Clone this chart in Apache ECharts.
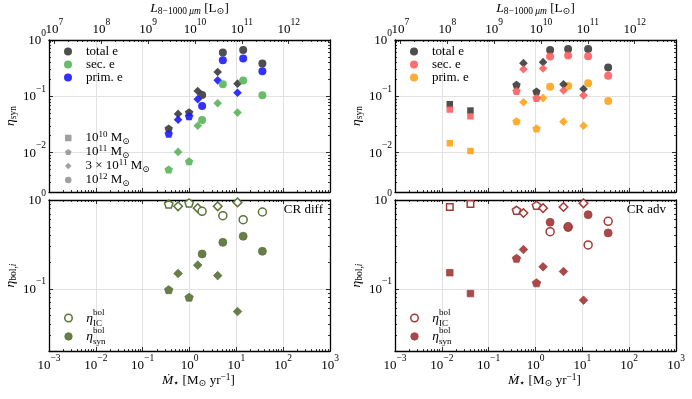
<!DOCTYPE html>
<html>
<head>
<meta charset="utf-8">
<script src="https://cdn.jsdelivr.net/npm/echarts@6.0.0/dist/echarts.min.js"></script>
<style>
html,body{margin:0;padding:0;background:#ffffff;}
#chart{width:692px;height:399px;}
</style>
</head>
<body>
<div id="chart"></div>
<script>
// ---------------- data ----------------
// CR diff (left column) -- star formation rate [Msun/yr] per halo-mass group
const diffMdotPent = [0.36, 0.98];            // 1e11 Msun (pentagons)
const diffMdotDiam = [0.57, 1.5, 4.0, 10.6];  // 3e11 Msun (diamonds)
const diffMdotCirc = [1.86, 5.15, 14, 36];    // 1e12 Msun (circles)

const diffTotalPent = [0.0269, 0.0521];
const diffTotalDiam = [0.0487, 0.124, 0.271, 0.168];
const diffTotalCirc = [0.105, 0.60, 0.662, 0.382];
const diffSecPent = [0.00504, 0.0070];
const diffSecDiam = [0.0103, 0.030, 0.0755, 0.0514];
const diffSecCirc = [0.038, 0.163, 0.19, 0.104];
const diffPrimPent = [0.0216, 0.0442];
const diffPrimDiam = [0.0385, 0.089, 0.192, 0.116];
const diffPrimCirc = [0.0676, 0.438, 0.47, 0.279];

const diffICPent = [0.90, 0.925];
const diffICDiam = [0.85, 0.81, 0.85, 0.94];
const diffICCirc = [0.746, 0.667, 0.60, 0.733];
const diffSynPent = [0.098, 0.0807];
const diffSynDiam = [0.149, 0.185, 0.141, 0.0556];
const diffSynCirc = [0.247, 0.334, 0.391, 0.265];

// CR adv (right column)
const advMdotSq = [0.0148, 0.0408];             // 1e10 Msun (squares)
const advMdotPent = [0.393, 1.05];
const advMdotDiam = [0.553, 1.45, 3.96, 10.6];
const advMdotCirc = [2.05, 4.97, 13.3, 35.6];

const advTotalSq = [0.0724, 0.0558];
const advTotalPent = [0.161, 0.122];
const advTotalDiam = [0.388, 0.404, 0.163, 0.135];
const advTotalCirc = [0.662, 0.69, 0.69, 0.324];
const advSecSq = [0.0583, 0.0442];
const advSecPent = [0.124, 0.093];
const advSecDiam = [0.303, 0.311, 0.127, 0.104];
const advSecCirc = [0.51, 0.532, 0.517, 0.233];
const advPrimSq = [0.0147, 0.0107];
const advPrimPent = [0.036, 0.0269];
const advPrimDiam = [0.0787, 0.093, 0.0355, 0.030];
const advPrimCirc = [0.148, 0.152, 0.170, 0.083];

const advICSq = [0.834, 0.90];
const advICPent = [0.766, 0.87];
const advICDiam = [0.714, 0.81, 0.834, 0.918];
const advICCirc = [0.44, 0.50, 0.312, 0.576];
const advSynSq = [0.152, 0.0886];
const advSynPent = [0.221, 0.117];
const advSynDiam = [0.277, 0.177, 0.157, 0.0746];
const advSynCirc = [0.561, 0.49, 0.684, 0.426];

// axis ranges and tick labels
const X_RANGE = [1e-3, 1e3];
const X_MAJOR = [1e-3, 1e-2, 1e-1, 1e0, 1e1, 1e2, 1e3];
const L_RANGE = [Math.pow(10, 6.883), Math.pow(10, 12.883)];
const L_MAJOR = [1e7, 1e8, 1e9, 1e10, 1e11, 1e12];
const Y_TOP_RANGE = [2e-3, 1];
const Y_TOP_MAJOR = [1e-2, 1e-1, 1];
const Y_BOT_RANGE = [2e-2, 1];
const Y_BOT_MAJOR = [1e-1, 1];

// ---------------- styling ----------------
const FONT = '"Liberation Serif", "DejaVu Serif", serif';
const PENT = 'path://M0,-10L9.511,-3.09L5.878,8.09L-5.878,8.09L-9.511,-3.09Z';
const SQ = 'path://M0,0L10,0L10,10L0,10Z';
const DIAM = 'path://M5,0L10,5L5,10L0,5Z';
const SHAPES = {
  sq: {symbol: SQ, size: 6.5},
  pent: {symbol: PENT, size: 8.4},
  diam: {symbol: DIAM, size: 8.6},
  circ: {symbol: 'circle', size: 8}
};
const ST = {
  total: {color: '#3b3b3b', opacity: 0.9},
  diffSec: {color: '#4fb04f', opacity: 0.85},
  diffPrim: {color: '#1c1cff', opacity: 0.9},
  advSec: {color: '#ff5555', opacity: 0.85},
  advPrim: {color: '#ffa31a', opacity: 0.9}
};
const OLIVE = '#5a7338';
const BROWN = '#a33a3a';
const openStyle = c => ({color: '#ffffff', borderColor: c, borderWidth: 1.5, opacity: 1});
const fillStyle = c => ({color: c, borderColor: c, borderWidth: 0.8, opacity: 0.92});

function pts(xs, ys) { return xs.map((x, i) => [x, ys[i]]); }
function scat(name, gi, shape, xs, ys, style) {
  return {
    type: 'scatter', name: name, xAxisIndex: 4 * gi, yAxisIndex: 4 * gi,
    symbol: SHAPES[shape].symbol, symbolSize: SHAPES[shape].size, symbolKeepAspect: true,
    itemStyle: style, data: pts(xs, ys), silent: true, emphasis: {disabled: true}
  };
}

const TICK_RICH = {
  b: {fontFamily: FONT, fontSize: 13, color: '#000', lineHeight: 19, verticalAlign: 'bottom'},
  s: {fontFamily: FONT, fontSize: 9.5, color: '#000', lineHeight: 10, verticalAlign: 'top'}
};
function powLabel(v) {
  const e = Math.round(Math.log10(v));
  return '{b|10}{s|' + String(e).replace('-', '\u2212') + '}';
}
const NAME_RICH = {
  i: {fontFamily: FONT, fontSize: 13.5, fontStyle: 'italic', lineHeight: 16, color: '#000'},
  r: {fontFamily: FONT, fontSize: 13, lineHeight: 16, color: '#000'},
  sb: {fontFamily: FONT, fontSize: 9.5, lineHeight: 10, verticalAlign: 'bottom', color: '#000'},
  sbi: {fontFamily: FONT, fontSize: 9.5, fontStyle: 'italic', lineHeight: 10, verticalAlign: 'bottom', color: '#000'},
  sp: {fontFamily: FONT, fontSize: 9.5, lineHeight: 10, verticalAlign: 'top', color: '#000'}
};
const XNAME = '{i|\u1E40}{sb|\u22C6}{r| [M}{sb|\u2299}{r| yr}{sp|\u22121}{r|]}';
const LNAME = '{i|L}{sb|8\u22121000 }{sbi|\u03BCm}{r| [L}{sb|\u2299}{r|]}';
const YNAME_TOP = '{i|\u03B7}{sb|syn}';
const YNAME_BOT = '{i|\u03B7}{sb|bol,}{sbi|i}';

function minors(lo, hi) {
  const out = [];
  for (let e = Math.floor(Math.log10(lo)); e <= Math.ceil(Math.log10(hi)); e++) {
    for (let m = 2; m <= 9; m++) {
      const v = m * Math.pow(10, e);
      if (v > lo && v < hi) out.push(v);
    }
  }
  return out;
}

const AX_LINE = {show: true, onZero: false, lineStyle: {color: '#000', width: 1.3}};
const GRID_LINE = {show: true, lineStyle: {color: '#e2e2e2', width: 1}};
function logAxis(gi, range, pos, ticks, len, extra) {
  return Object.assign({
    type: 'log', logBase: 10, gridIndex: gi, min: range[0], max: range[1], position: pos,
    axisLine: {show: false, onZero: false},
    axisTick: {show: true, inside: true, length: len, customValues: ticks, lineStyle: {color: '#000', width: 0.8}},
    axisLabel: {show: false},
    splitLine: {show: false}, minorTick: {show: false}, minorSplitLine: {show: false},
    axisPointer: {show: false}, silent: true
  }, extra || {});
}

const xAxes = [], yAxes = [];
function addGridAxes(gi, isTop) {
  const yr = isTop ? Y_TOP_RANGE : Y_BOT_RANGE;
  const ym = isTop ? Y_TOP_MAJOR : Y_BOT_MAJOR;
  // x: bottom major, bottom minor, top major, top minor
  const bottomExtra = {axisLine: AX_LINE, splitLine: GRID_LINE};
  if (isTop) {
    bottomExtra.axisLabel = {show: false};
  } else {
    bottomExtra.axisLabel = {show: true, customValues: X_MAJOR, formatter: powLabel, rich: TICK_RICH, margin: 2};
    bottomExtra.name = XNAME;
    bottomExtra.nameLocation = 'middle';
    bottomExtra.nameGap = 15;
    bottomExtra.nameTextStyle = {rich: NAME_RICH, fontFamily: FONT, fontSize: 13, color: '#000', padding: [0, 0, 0, 18]};
  }
  xAxes.push(logAxis(gi, X_RANGE, 'bottom', X_MAJOR, 4, bottomExtra));
  xAxes.push(logAxis(gi, X_RANGE, 'bottom', minors(X_RANGE[0], X_RANGE[1]), 2));
  if (isTop) {
    xAxes.push(logAxis(gi, L_RANGE, 'top', L_MAJOR, 4, {
      axisLine: AX_LINE,
      axisLabel: {show: true, customValues: L_MAJOR, formatter: powLabel, rich: TICK_RICH, margin: 3.5},
      name: LNAME, nameLocation: 'middle', nameGap: 15,
      nameTextStyle: {rich: NAME_RICH, fontFamily: FONT, fontSize: 13, color: '#000'}
    }));
    xAxes.push(logAxis(gi, L_RANGE, 'top', minors(L_RANGE[0], L_RANGE[1]), 2));
  } else {
    xAxes.push(logAxis(gi, X_RANGE, 'top', X_MAJOR, 4, {axisLine: AX_LINE}));
    xAxes.push(logAxis(gi, X_RANGE, 'top', minors(X_RANGE[0], X_RANGE[1]), 2));
  }
  // y: left major, left minor, right major, right minor
  yAxes.push(logAxis(gi, yr, 'left', ym, 4, {
    axisLine: AX_LINE, splitLine: GRID_LINE,
    axisLabel: {show: true, customValues: ym, formatter: powLabel, rich: TICK_RICH, margin: 3, padding: [0, 0, 5, 0]},
    name: isTop ? YNAME_TOP : YNAME_BOT, nameLocation: 'middle', nameGap: 31,
    nameTextStyle: {rich: NAME_RICH, fontFamily: FONT, fontSize: 13, color: '#000'}
  }));
  yAxes.push(logAxis(gi, yr, 'left', minors(yr[0], yr[1]), 2));
  yAxes.push(logAxis(gi, yr, 'right', ym, 4, {axisLine: AX_LINE}));
  yAxes.push(logAxis(gi, yr, 'right', minors(yr[0], yr[1]), 2));
}
addGridAxes(0, true);
addGridAxes(1, false);
addGridAxes(2, true);
addGridAxes(3, false);

const series = [
  // top-left: CR diff synchrotron efficiency
  scat('diffTotal', 0, 'pent', diffMdotPent, diffTotalPent, ST.total),
  scat('diffTotal', 0, 'diam', diffMdotDiam, diffTotalDiam, ST.total),
  scat('diffTotal', 0, 'circ', diffMdotCirc, diffTotalCirc, ST.total),
  scat('diffPrim', 0, 'pent', diffMdotPent, diffPrimPent, ST.diffPrim),
  scat('diffPrim', 0, 'diam', diffMdotDiam, diffPrimDiam, ST.diffPrim),
  scat('diffPrim', 0, 'circ', diffMdotCirc, diffPrimCirc, ST.diffPrim),
  scat('diffSec', 0, 'pent', diffMdotPent, diffSecPent, ST.diffSec),
  scat('diffSec', 0, 'diam', diffMdotDiam, diffSecDiam, ST.diffSec),
  scat('diffSec', 0, 'circ', diffMdotCirc, diffSecCirc, ST.diffSec),
  // bottom-left: CR diff bolometric
  scat('diffIC', 1, 'pent', diffMdotPent, diffICPent, openStyle(OLIVE)),
  scat('diffIC', 1, 'diam', diffMdotDiam, diffICDiam, openStyle(OLIVE)),
  scat('diffIC', 1, 'circ', diffMdotCirc, diffICCirc, openStyle(OLIVE)),
  scat('diffSyn', 1, 'pent', diffMdotPent, diffSynPent, fillStyle(OLIVE)),
  scat('diffSyn', 1, 'diam', diffMdotDiam, diffSynDiam, fillStyle(OLIVE)),
  scat('diffSyn', 1, 'circ', diffMdotCirc, diffSynCirc, fillStyle(OLIVE)),
  // top-right: CR adv synchrotron efficiency
  scat('advPrim', 2, 'sq', advMdotSq, advPrimSq, ST.advPrim),
  scat('advPrim', 2, 'pent', advMdotPent, advPrimPent, ST.advPrim),
  scat('advPrim', 2, 'diam', advMdotDiam, advPrimDiam, ST.advPrim),
  scat('advPrim', 2, 'circ', advMdotCirc, advPrimCirc, ST.advPrim),
  scat('advTotal', 2, 'sq', advMdotSq, advTotalSq, ST.total),
  scat('advTotal', 2, 'pent', advMdotPent, advTotalPent, ST.total),
  scat('advTotal', 2, 'diam', advMdotDiam, advTotalDiam, ST.total),
  scat('advTotal', 2, 'circ', advMdotCirc, advTotalCirc, ST.total),
  scat('advSec', 2, 'sq', advMdotSq, advSecSq, ST.advSec),
  scat('advSec', 2, 'pent', advMdotPent, advSecPent, ST.advSec),
  scat('advSec', 2, 'diam', advMdotDiam, advSecDiam, ST.advSec),
  scat('advSec', 2, 'circ', advMdotCirc, advSecCirc, ST.advSec),
  // bottom-right: CR adv bolometric
  scat('advIC', 3, 'sq', advMdotSq, advICSq, openStyle(BROWN)),
  scat('advIC', 3, 'pent', advMdotPent, advICPent, openStyle(BROWN)),
  scat('advIC', 3, 'diam', advMdotDiam, advICDiam, openStyle(BROWN)),
  scat('advIC', 3, 'circ', advMdotCirc, advICCirc, openStyle(BROWN)),
  scat('advSyn', 3, 'sq', advMdotSq, advSynSq, fillStyle(BROWN)),
  scat('advSyn', 3, 'pent', advMdotPent, advSynPent, fillStyle(BROWN)),
  scat('advSyn', 3, 'diam', advMdotDiam, advSynDiam, fillStyle(BROWN)),
  scat('advSyn', 3, 'circ', advMdotCirc, advSynCirc, fillStyle(BROWN)),
  // halo-mass legend entries (marker shape key)
  {type: 'scatter', name: 'm10', xAxisIndex: 0, yAxisIndex: 0, data: [], itemStyle: {color: '#888'}},
  {type: 'scatter', name: 'm11', xAxisIndex: 0, yAxisIndex: 0, data: [], itemStyle: {color: '#888'}},
  {type: 'scatter', name: 'm3e11', xAxisIndex: 0, yAxisIndex: 0, data: [], itemStyle: {color: '#888'}},
  {type: 'scatter', name: 'm12', xAxisIndex: 0, yAxisIndex: 0, data: [], itemStyle: {color: '#888'}}
];

const LEG_LABELS = {
  diffTotal: '{a|total e}', diffSec: '{a|sec. e}', diffPrim: '{a|prim. e}',
  advTotal: '{a|total e}', advSec: '{a|sec. e}', advPrim: '{a|prim. e}',
  m10: '{r|10}{p|10}{r| M}{d|\u2299}',
  m11: '{r|10}{p|11}{r| M}{d|\u2299}',
  m3e11: '{r|3 \u00D7 10}{p|11}{r| M}{d|\u2299}',
  m12: '{r|10}{p|12}{r| M}{d|\u2299}',
  diffIC: '{e|\u03B7}{p0|bol}{d|IC}', diffSyn: '{e|\u03B7}{p0|bol}{d|syn}',
  advIC: '{e|\u03B7}{p0|bol}{d|IC}', advSyn: '{e|\u03B7}{p0|bol}{d|syn}'
};
const LEG_RICH = {
  a: {fontFamily: FONT, fontSize: 13, lineHeight: 14, color: '#000'},
  r: {fontFamily: FONT, fontSize: 13, lineHeight: 16, color: '#000'},
  p: {fontFamily: FONT, fontSize: 9, lineHeight: 10, verticalAlign: 'top', color: '#000'},
  d: {fontFamily: FONT, fontSize: 9, lineHeight: 10, verticalAlign: 'bottom', color: '#000'},
  e: {fontFamily: FONT, fontSize: 13.5, fontStyle: 'italic', lineHeight: 20, color: '#000'},
  p0: {fontFamily: FONT, fontSize: 9, lineHeight: 10, verticalAlign: 'top', color: '#000', width: 0}
};
function legend(left, top, gap, h, padL, data) {
  return {
    left: left, top: top, orient: 'vertical', padding: 0, itemGap: gap,
    itemWidth: h, itemHeight: h, selectedMode: false, data: data,
    formatter: n => LEG_LABELS[n],
    textStyle: {fontFamily: FONT, fontSize: 13, color: '#000', rich: LEG_RICH, padding: [0, 0, 0, padL]}
  };
}
const circ = (name, color, op) => ({name: name, icon: 'circle', itemStyle: {color: color, opacity: op, borderWidth: 0}});

const option = {
  animation: false,
  backgroundColor: '#ffffff',
  grid: [
    {left: 49, top: 40, width: 281, height: 152, containLabel: false, outerBoundsMode: 'none'},
    {left: 49, top: 200, width: 281, height: 151, containLabel: false, outerBoundsMode: 'none'},
    {left: 395, top: 40, width: 281, height: 152, containLabel: false, outerBoundsMode: 'none'},
    {left: 395, top: 200, width: 281, height: 151, containLabel: false, outerBoundsMode: 'none'}
  ],
  xAxis: xAxes,
  yAxis: yAxes,
  title: [
    {text: 'CR diff', right: 369, top: 203, padding: 0,
     textStyle: {fontFamily: FONT, fontSize: 13, fontWeight: 'normal', color: '#000'}},
    {text: 'CR adv', right: 26, top: 203, padding: 0,
     textStyle: {fontFamily: FONT, fontSize: 13, fontWeight: 'normal', color: '#000'}}
  ],
  legend: [
    legend(64, 45, 0, 8, 9, [circ('diffTotal', ST.total.color, 0.9), circ('diffSec', ST.diffSec.color, 0.85), circ('diffPrim', ST.diffPrim.color, 0.9)]),
    legend(65, 130, -2, 6.5, 9, [
      {name: 'm10', icon: SQ, itemStyle: {color: '#888'}},
      {name: 'm11', icon: PENT, itemStyle: {color: '#888'}},
      {name: 'm3e11', icon: DIAM, itemStyle: {color: '#888'}},
      {name: 'm12', icon: 'circle', itemStyle: {color: '#888'}}
    ]),
    legend(64, 308, -1.6, 7.5, 9, [
      {name: 'diffIC', icon: 'circle', itemStyle: {color: '#fff', borderColor: OLIVE, borderWidth: 1.5}},
      {name: 'diffSyn', icon: 'circle', itemStyle: {color: OLIVE, borderColor: OLIVE, borderWidth: 0.8}}
    ]),
    legend(410, 45, 0, 8, 9, [circ('advTotal', ST.total.color, 0.9), circ('advSec', ST.advSec.color, 0.85), circ('advPrim', ST.advPrim.color, 0.9)]),
    legend(410, 308, -1.6, 7.5, 9, [
      {name: 'advIC', icon: 'circle', itemStyle: {color: '#fff', borderColor: BROWN, borderWidth: 1.5}},
      {name: 'advSyn', icon: 'circle', itemStyle: {color: BROWN, borderColor: BROWN, borderWidth: 0.8}}
    ])
  ],
  series: series
};

const chart = echarts.init(document.getElementById('chart'), null, {renderer: 'canvas'});
chart.setOption(option);
</script>
</body>
</html>
